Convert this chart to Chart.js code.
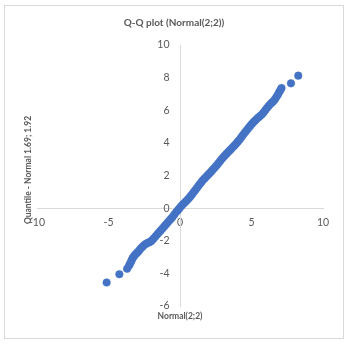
<!DOCTYPE html>
<html>
<head>
<meta charset="utf-8">
<script src="https://cdn.jsdelivr.net/npm/chart.js@4/dist/chart.umd.min.js"></script>
<style>
  html, body { margin: 0; padding: 0; background: #ffffff; }
  #wrap { width: 349px; height: 344px; }
</style>
</head>
<body>
<div id="wrap"><canvas id="qq" width="349" height="344"></canvas></div>
<script>
// Sample values (x) against the fitted normal quantiles (y)
const xVals = [
  -5.13, -4.24, -3.70, -3.58, -3.50, -3.42, -3.36, -3.30, -3.22, -3.14,
  -3.05, -2.96, -2.86, -2.75, -2.64, -2.52, -2.40, -2.28, -2.16, -2.04,
  -1.94, -1.84, -1.72, -1.60, -1.48, -1.36, -1.24, -1.12, -1.00, -0.88,
  -0.76, -0.64, -0.52, -0.40, -0.28, -0.16, -0.05, 0.06, 0.17, 0.28,
  0.40, 0.51, 0.62, 0.73, 0.84, 0.95, 1.06, 1.17, 1.28, 1.39,
  1.50, 1.61, 1.72, 1.83, 1.94, 2.05, 2.16, 2.27, 2.38, 2.49,
  2.60, 2.71, 2.82, 2.93, 3.04, 3.15, 3.26, 3.37, 3.48, 3.59,
  3.70, 3.81, 3.92, 4.03, 4.14, 4.25, 4.36, 4.47, 4.58, 4.69,
  4.80, 4.91, 5.02, 5.13, 5.24, 5.36, 5.48, 5.60, 5.72, 5.84,
  5.96, 6.08, 6.20, 6.32, 6.44, 6.56, 6.66, 6.76, 6.86, 6.94,
  7.02, 7.10, 7.76, 8.27
];
const yVals = [
  -4.56, -4.05, -3.72, -3.55, -3.42, -3.28, -3.15, -3.04, -2.95, -2.86,
  -2.78, -2.70, -2.60, -2.48, -2.38, -2.28, -2.20, -2.14, -2.10, -2.04,
  -1.96, -1.86, -1.74, -1.62, -1.50, -1.38, -1.26, -1.14, -1.02, -0.90,
  -0.78, -0.66, -0.54, -0.40, -0.26, -0.14, -0.02, 0.10, 0.20, 0.30,
  0.40, 0.50, 0.60, 0.72, 0.84, 0.97, 1.10, 1.22, 1.36, 1.48,
  1.60, 1.72, 1.82, 1.92, 2.02, 2.12, 2.22, 2.33, 2.44, 2.55,
  2.66, 2.78, 2.90, 3.02, 3.13, 3.24, 3.34, 3.44, 3.54, 3.64,
  3.74, 3.84, 3.95, 4.06, 4.17, 4.30, 4.43, 4.56, 4.68, 4.80,
  4.92, 5.04, 5.16, 5.26, 5.36, 5.46, 5.56, 5.64, 5.74, 5.86,
  6.00, 6.14, 6.26, 6.38, 6.48, 6.58, 6.70, 6.84, 6.98, 7.12,
  7.24, 7.36, 7.65, 8.12
];

const chartTitle = 'Q-Q plot (Normal(2;2))';
const xTitle = 'Normal(2;2)';
const yTitle = 'Quantile - Normal 1.69; 1.92';

const points = xVals.map((x, i) => ({ x: x, y: yVals[i] }));

const textGray = '#595959';
const axisGray = '#d9d9d9';
const fontFamily = 'Lato, "Liberation Sans", sans-serif';

// White background, thin frame and the three titles
const frameAndTitles = {
  id: 'frameAndTitles',
  beforeDraw(chart) {
    const ctx = chart.ctx;
    ctx.save();
    ctx.fillStyle = '#ffffff';
    ctx.fillRect(0, 0, chart.width, chart.height);
    ctx.strokeStyle = '#d9d9d9';
    ctx.lineWidth = 1;
    ctx.strokeRect(4.5, 5.5, 339, 333);
    ctx.restore();
  },
  afterDraw(chart) {
    const ctx = chart.ctx;
    ctx.save();
    ctx.fillStyle = textGray;
    ctx.textAlign = 'center';
    ctx.textBaseline = 'middle';
    ctx.font = 'bold 10px ' + fontFamily;
    ctx.fillText(chartTitle, 174, 23);
    ctx.font = 'bold 8.5px ' + fontFamily;
    ctx.fillText(xTitle, 180, 316);
    ctx.translate(28, 170);
    ctx.rotate(-Math.PI / 2);
    ctx.fillText(yTitle, 0, 0);
    ctx.restore();
  }
};

new Chart(document.getElementById('qq'), {
  type: 'scatter',
  data: {
    datasets: [{
      data: points,
      backgroundColor: '#4472C4',
      borderColor: '#4472C4',
      borderWidth: 0.5,
      pointRadius: 3.8,
      pointHoverRadius: 3.8
    }]
  },
  options: {
    responsive: false,
    animation: false,
    devicePixelRatio: 1,
    layout: { padding: { left: 37, right: 26, top: 45, bottom: 38 } },
    plugins: {
      legend: { display: false },
      tooltip: { enabled: false },
      title: { display: false }
    },
    scales: {
      x: {
        type: 'linear',
        position: { y: 0 },
        min: -10,
        max: 10,
        ticks: { stepSize: 5, padding: 8, color: textGray, font: { family: fontFamily, size: 10.5 }, maxRotation: 0 },
        grid: { drawOnChartArea: false, drawTicks: false },
        border: { display: true, color: axisGray, width: 1 }
      },
      y: {
        type: 'linear',
        position: { x: 0 },
        min: -6,
        max: 10,
        ticks: {
          stepSize: 2,
          color: textGray,
          font: { family: fontFamily, size: 10.5 },
          // keep the labels clear of the centred axis line
          callback: (v) => v + '\u2002\u2002'
        },
        grid: { drawOnChartArea: false, drawTicks: false },
        border: { display: true, color: axisGray, width: 1 }
      }
    }
  },
  plugins: [frameAndTitles]
});
</script>
</body>
</html>
